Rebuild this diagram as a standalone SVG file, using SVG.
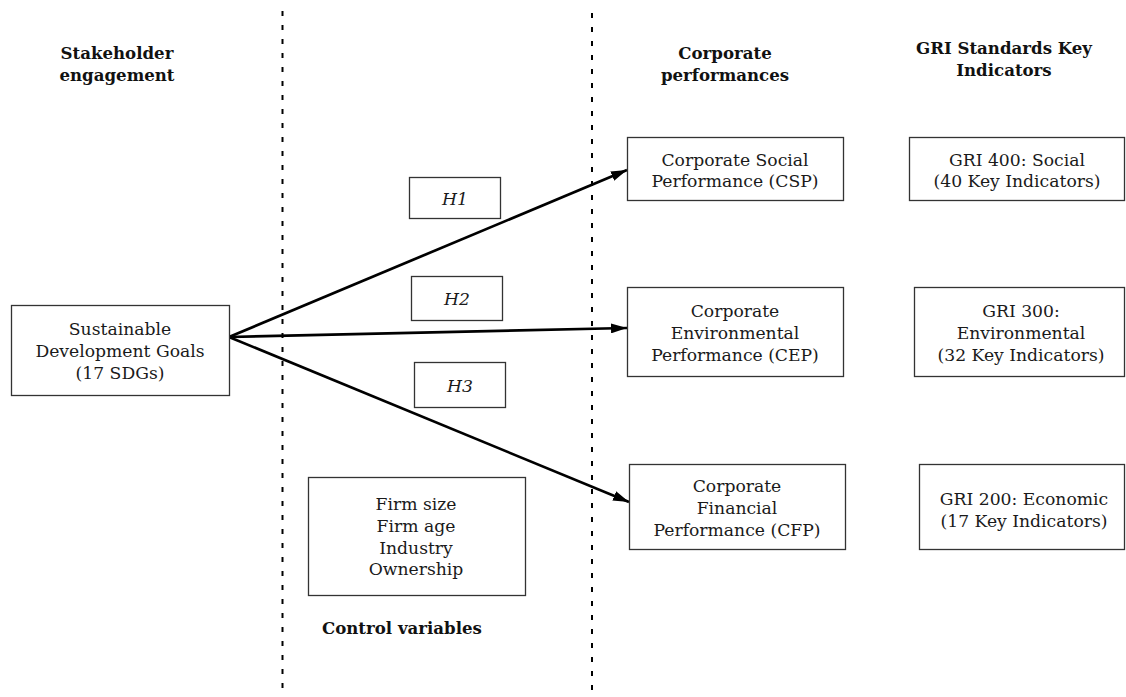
<svg xmlns="http://www.w3.org/2000/svg" width="1126" height="697" viewBox="0 0 1126 697">
<defs>
<marker id="ah" viewBox="0 0 16 10" refX="16" refY="5" markerWidth="16" markerHeight="10" markerUnits="userSpaceOnUse" orient="auto">
<path d="M0,0 L16,5 L0,10 z" fill="#000"/>
</marker>
<style>
.t{font-family:"DejaVu Serif","Liberation Serif",serif;font-size:17.2px;fill:#1a1a1a;text-anchor:middle}
.h{font-family:"DejaVu Serif","Liberation Serif",serif;font-size:16.6px;font-weight:bold;fill:#111;text-anchor:middle}
.i{font-style:italic}
.box{fill:#fff;stroke:#333;stroke-width:1.3}
.dash{stroke:#000;stroke-width:2;stroke-dasharray:5 9;fill:none}
.arr{stroke:#000;stroke-width:2.7;fill:none;marker-end:url(#ah)}
</style>
</defs>
<rect width="1126" height="697" fill="#fff"/>
<g id="dividers">
<line class="dash" x1="282.5" y1="11" x2="282.5" y2="697"/>
<line class="dash" x1="592" y1="13" x2="592" y2="692"/>
</g>
<g id="headings">
<text class="h" x="117" y="59">Stakeholder</text>
<text class="h" x="117" y="81">engagement</text>
<text class="h" x="725" y="59">Corporate</text>
<text class="h" x="725" y="81">performances</text>
<text class="h" x="1004" y="54">GRI Standards Key</text>
<text class="h" x="1004" y="76">Indicators</text>
<text class="h" x="322" y="634" style="text-anchor:start">Control variables</text>
</g>
<g id="connectors">
<line class="arr" x1="229" y1="337" x2="627" y2="170"/>
<line class="arr" x1="229" y1="337" x2="627" y2="328"/>
<line class="arr" x1="229" y1="337" x2="629" y2="502"/>
</g>
<g id="sdg">
<rect class="box" x="11.5" y="305.5" width="218" height="90"/>
<text class="t" x="120" y="335">Sustainable</text>
<text class="t" x="120" y="357">Development Goals</text>
<text class="t" x="120" y="379">(17 SDGs)</text>
</g>
<g id="h1">
<rect class="box" x="409.5" y="177.5" width="91" height="41"/>
<text class="t i" x="455" y="205">H1</text>
</g>
<g id="h2">
<rect class="box" x="411.5" y="276.5" width="91" height="44"/>
<text class="t i" x="457" y="305">H2</text>
</g>
<g id="h3">
<rect class="box" x="414.5" y="362.5" width="91" height="45"/>
<text class="t i" x="460" y="392">H3</text>
</g>
<g id="csp">
<rect class="box" x="627.5" y="137.5" width="216" height="63"/>
<text class="t" x="735" y="166">Corporate Social</text>
<text class="t" x="735" y="187">Performance (CSP)</text>
</g>
<g id="cep">
<rect class="box" x="627.5" y="287.5" width="216" height="89"/>
<text class="t" x="735" y="317">Corporate</text>
<text class="t" x="735" y="339">Environmental</text>
<text class="t" x="735" y="361">Performance (CEP)</text>
</g>
<g id="cfp">
<rect class="box" x="629.5" y="464.5" width="216" height="85"/>
<text class="t" x="737" y="492">Corporate</text>
<text class="t" x="737" y="514">Financial</text>
<text class="t" x="737" y="536">Performance (CFP)</text>
</g>
<g id="gri400">
<rect class="box" x="909.5" y="137.5" width="215" height="63"/>
<text class="t" x="1017" y="166">GRI 400: Social</text>
<text class="t" x="1017" y="187">(40 Key Indicators)</text>
</g>
<g id="gri300">
<rect class="box" x="914.5" y="287.5" width="210" height="89"/>
<text class="t" x="1021" y="317">GRI 300:</text>
<text class="t" x="1021" y="339">Environmental</text>
<text class="t" x="1021" y="361">(32 Key Indicators)</text>
</g>
<g id="gri200">
<rect class="box" x="919.5" y="464.5" width="205" height="85"/>
<text class="t" x="1024" y="505">GRI 200: Economic</text>
<text class="t" x="1024" y="527">(17 Key Indicators)</text>
</g>
<g id="controls">
<rect class="box" x="308.5" y="477.5" width="217" height="118"/>
<text class="t" x="416" y="510">Firm size</text>
<text class="t" x="416" y="532">Firm age</text>
<text class="t" x="416" y="554">Industry</text>
<text class="t" x="416" y="575">Ownership</text>
</g>
</svg>
